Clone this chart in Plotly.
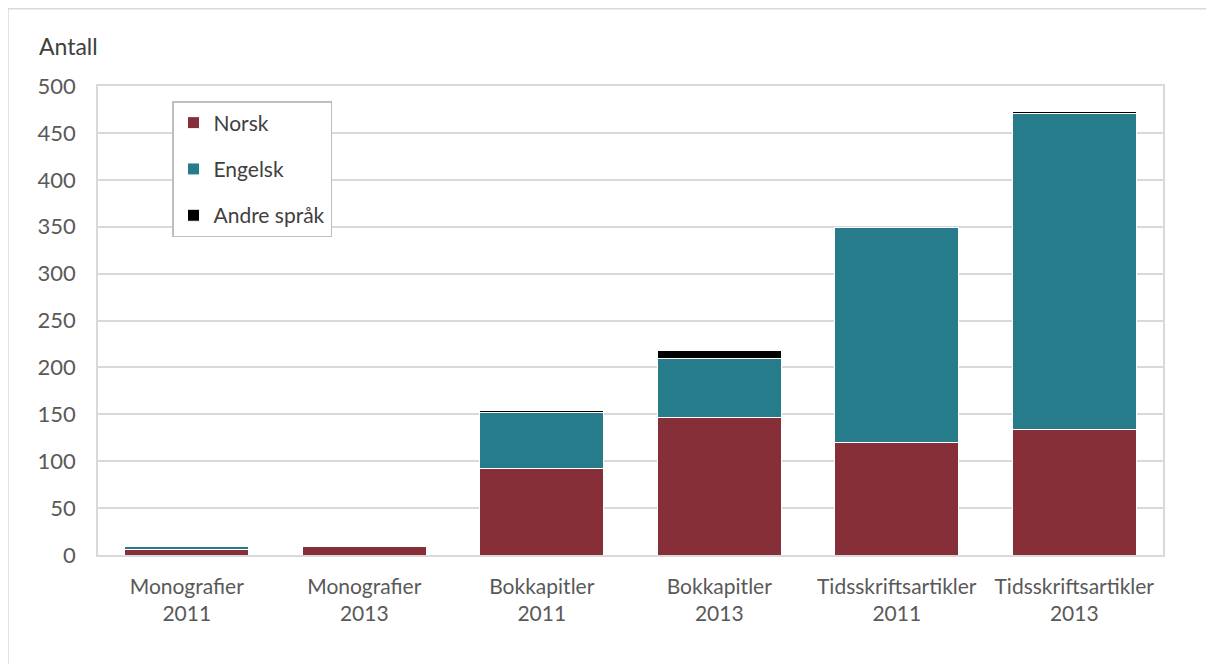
import plotly.graph_objects as go

categories = ["Monografier<br>2011", "Monografier<br>2013", "Bokkapitler<br>2011",
              "Bokkapitler<br>2013", "Tidsskriftsartikler<br>2011", "Tidsskriftsartikler<br>2013"]
norsk = [6, 9, 92, 147, 120, 134]
engelsk = [3, 0, 60, 63, 229, 337]
andre = [0, 0, 2, 8, 0, 2]
series_names = ["Norsk", "Engelsk", "Andre språk"]
colors = ["#862F38", "#277C8C", "#000000"]
tick_vals = [0, 50, 100, 150, 200, 250, 300, 350, 400, 450, 500]

L, R, T, B = 90, 59, 78, 117
W, H = 1214, 664
pw, ph = W - L - R, H - T - B

fig = go.Figure()
for i, (name, vals) in enumerate(zip(series_names, [norsk, engelsk, andre])):
    fig.add_trace(go.Bar(
        x=categories, y=vals, name=name, legendgroup=name,
        marker=dict(color=colors[i], line=dict(color="white", width=1)),
        width=0.7,
    ))

fig.update_layout(
    barmode="stack",
    width=W, height=H,
    margin=dict(l=L, r=R, t=T, b=B),
    plot_bgcolor="white", paper_bgcolor="white",
    font=dict(family="Lato, Open Sans, sans-serif", size=22, color="#595959"),
    xaxis=dict(showline=True, linecolor="#D9D9D9", linewidth=1.5, mirror=True,
               ticks="", tickfont=dict(size=21), ticklabelstandoff=12),
    yaxis=dict(range=[0, 500], tickvals=tick_vals, showgrid=True, gridcolor="#D9D9D9",
               gridwidth=1.5, showline=True, linecolor="#D9D9D9", linewidth=1.5,
               mirror=True, ticks="", ticklabelstandoff=16, zeroline=False,
               tickfont=dict(size=22)),
    legend=dict(x=(164 - L) / pw, y=(H - B - 93) / ph, xanchor="left", yanchor="top",
                bordercolor="#BFBFBF", borderwidth=1.5, bgcolor="white",
                tracegroupgap=16, font=dict(size=21, color="#404040"),
                itemwidth=30),
    showlegend=True,
)
fig.add_annotation(text="Antall", xref="paper", yref="paper", x=(29 - L) / pw, y=(H - B - 38) / ph,
                   xanchor="left", yanchor="middle", showarrow=False,
                   font=dict(size=23, color="#404040"))
fig.add_shape(type="rect", xref="paper", yref="paper",
              x0=(0 - L) / pw, x1=(W + 10 - L) / pw,
              y0=(H - B - H - 10) / ph, y1=(H - B - 0.75) / ph,
              line=dict(color="#D9D9D9", width=1.5), layer="below")

fig.write_html("out.html")
